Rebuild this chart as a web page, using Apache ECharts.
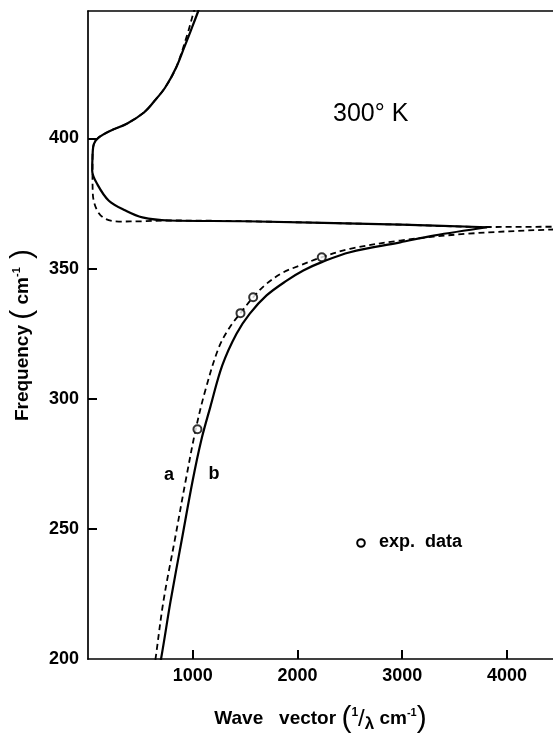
<!DOCTYPE html>
<html><head><meta charset="utf-8">
<script src="https://cdn.jsdelivr.net/npm/echarts@6/dist/echarts.min.js"></script>
<style>html,body{margin:0;padding:0;background:#fff}#c{width:553px;height:734px}</style>
</head><body><div id="c"></div>
<script>
// ---- data ----
const xLabelTicks = [1000, 2000, 3000, 4000];
const yLabelTicks = [200, 250, 300, 350, 400];
const yTickMarks = [250, 300, 350, 400];

// curve b (solid): lower branch up to the turning point
const bLowerK = [655, 699, 790, 895, 1000, 1081, 1167, 1282, 1418, 1545, 1705, 1897, 2056, 2232, 2502, 2981, 3300, 3811];
const bLowerW = [192, 200.4, 222.6, 245.7, 268.7, 284.0, 296.7, 312.8, 325.0, 332.7, 339.7, 345.4, 349.3, 352.5, 356.3, 360.1, 362.7, 365.9];
// curve b (solid): back-bending part and upper branch
const bReturnK = [3811, 2990, 1507, 773, 519, 359, 199, 88, 40, 43, 56, 103, 215, 375, 534, 636, 737, 842, 917, 981, 1053, 1086];
const bReturnW = [365.9, 366.9, 368.2, 368.5, 369.7, 372.3, 376.1, 382.5, 387.6, 392.7, 397.9, 400.4, 403.0, 405.8, 410.0, 414.5, 419.6, 427.3, 434.8, 441.4, 449.0, 452.9];

// curve a (dashed): lower branch
const aLowerK = [617, 646, 722, 828, 933, 1029, 1120, 1249, 1354, 1456, 1577, 1705, 1861, 2024, 2232, 2502, 2981, 3619, 4416, 4895];
const aLowerW = [192, 200.4, 222.6, 245.6, 268.6, 288.3, 303.2, 319.7, 327.5, 332.9, 339.0, 344.2, 348.5, 351.2, 354.4, 357.6, 360.8, 363.4, 365.0, 365.3];
// curve a (dashed): back-bending part and upper branch
const aReturnK = [4904, 4426, 3811, 2990, 1507, 773, 519, 295, 167, 88, 46, 43, 43, 56, 103, 215, 375, 534, 636, 737, 842, 949, 1012, 1045];
const aReturnW = [366.1, 366.1, 366.0, 366.9, 368.2, 368.5, 368.2, 368.1, 369.1, 372.3, 378.7, 386.5, 392.7, 397.9, 400.4, 403.0, 405.8, 410.0, 414.5, 419.6, 427.3, 440.1, 449.0, 453];

// experimental data
const expK = [1045, 1456, 1577, 2232];
const expW = [288.3, 332.9, 339.0, 354.4];

const X_MIN = 0, X_MAX = 4440, Y_MIN = 200, Y_MAX = 449;

// ---- build ----
const zip = (a, b) => a.map((v, i) => [v, b[i]]);
const FONT = 'Liberation Sans';
const solidStyle = { color: '#000', width: 2.2, type: 'solid' };
const dashStyle = { color: '#000', width: 1.8, type: [6, 4] };

function lineSeries(data, style, z) {
  return { type: 'line', data: data, showSymbol: false, smooth: 0.35, lineStyle: style, z: z, silent: true, animation: false };
}

const chart = echarts.init(document.getElementById('c'), null, { renderer: 'canvas' });
const axisLineStyle = { color: '#000', width: 1.7 };

const richTitle = {
  t: { fontFamily: FONT, fontWeight: 'bold', fontSize: 19, color: '#000' },
  p: { fontFamily: FONT, fontWeight: 'normal', fontSize: 30, color: '#000' },
  s: { fontFamily: FONT, fontWeight: 'bold', fontSize: 11, color: '#000', padding: [0, 0, 12, 0] },
  n: { fontFamily: FONT, fontWeight: 'bold', fontSize: 12, color: '#000', padding: [0, 0, 12, 0] },
  sl: { fontFamily: FONT, fontWeight: 'normal', fontSize: 24, color: '#000' },
  l: { fontFamily: FONT, fontWeight: 'bold', fontSize: 17, color: '#000', padding: [10, 0, 0, 0] }
};
const plain = v => String(v);

chart.setOption({
  animation: false,
  backgroundColor: '#fff',
  grid: { left: 88, right: 0, top: 11, bottom: 75, containLabel: false, outerBoundsMode: 'none' },
  xAxis: [{
    type: 'value', min: X_MIN, max: X_MAX, interval: 1000, position: 'bottom',
    axisLine: { lineStyle: axisLineStyle },
    axisTick: { inside: true, length: 9, customValues: xLabelTicks, lineStyle: { color: '#000', width: 2 } },
    axisLabel: { customValues: xLabelTicks, formatter: plain, color: '#000', fontSize: 18, fontWeight: 'bold', fontFamily: FONT, margin: 8 },
    splitLine: { show: false },
    name: '{t|Wave   vector }{p|(}{n|1}{sl|/}{l|λ}{t| cm}{s|-1}{p|)}',
    nameLocation: 'middle', nameGap: 45,
    nameTextStyle: { rich: richTitle }
  }, {
    type: 'value', min: X_MIN, max: X_MAX, position: 'top',
    axisLine: { show: true, lineStyle: axisLineStyle },
    axisTick: { show: false }, axisLabel: { show: false }, splitLine: { show: false }
  }],
  yAxis: {
    type: 'value', min: Y_MIN, max: Y_MAX, interval: 50,
    axisLine: { show: true, lineStyle: axisLineStyle },
    axisTick: { show: true, inside: true, length: 9, customValues: yTickMarks, lineStyle: { color: '#000', width: 2 } },
    axisLabel: { customValues: yLabelTicks, formatter: plain, color: '#000', fontSize: 18, fontWeight: 'bold', fontFamily: FONT, margin: 9 },
    splitLine: { show: false },
    name: '{t|Frequency }{p|(}{t| cm}{s|-1}{p| )}',
    nameLocation: 'middle', nameGap: 44,
    nameTextStyle: { rich: richTitle }
  },
  series: [
    lineSeries(zip(aLowerK, aLowerW), dashStyle, 2),
    lineSeries(zip(aReturnK, aReturnW), dashStyle, 2),
    lineSeries(zip(bLowerK, bLowerW), solidStyle, 3),
    lineSeries(zip(bReturnK, bReturnW), solidStyle, 3),
    {
      type: 'scatter', data: zip(expK, expW), symbol: 'circle', symbolSize: 8, z: 5,
      itemStyle: { color: '#fff', borderColor: '#000', borderWidth: 2 }, silent: true
    }
  ],
  graphic: [
    { type: 'text', x: 333, y: 114, style: { text: '300° K', font: 'normal 25px "Liberation Sans"', fill: '#000', verticalAlign: 'middle' } },
    { type: 'text', x: 169, y: 475, style: { text: 'a', font: 'bold 18px "Liberation Sans"', fill: '#000', align: 'center', verticalAlign: 'middle' } },
    { type: 'text', x: 214, y: 474, style: { text: 'b', font: 'bold 18px "Liberation Sans"', fill: '#000', align: 'center', verticalAlign: 'middle' } },
    { type: 'circle', shape: { cx: 361, cy: 543, r: 3.8 }, style: { fill: '#fff', stroke: '#000', lineWidth: 2 } },
    { type: 'text', x: 379, y: 542, style: { text: 'exp.  data', font: 'bold 18px "Liberation Sans"', fill: '#000', verticalAlign: 'middle' } }
  ]
});
</script>
</body></html>
